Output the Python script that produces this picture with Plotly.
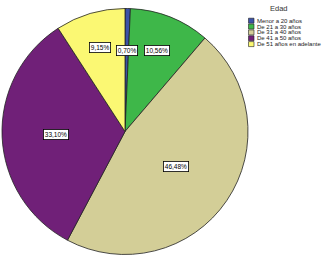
import math
import plotly.graph_objects as go

categories = ["Menor a 20 años", "De 21 a 30 años", "De 31 a 40 años",
              "De 41 a 50 años", "De 51 años en adelante"]
percentages = [0.70, 10.56, 46.48, 33.10, 9.15]
colors = ["#3B52A8", "#3EB749", "#D3CE97", "#702078", "#FBF873"]
legend_title = "Edad"
# label placement radius as fraction of pie radius (style)
label_radius = [0.66, 0.71, 0.50, 0.56, 0.71]

W, H = 331, 279
cx, cy, R = 125.0, 131.5, 123.0  # pixel geometry of pie

dom_x = [(cx - R) / W, (cx + R) / W]
dom_y = [1 - (cy + R) / H, 1 - (cy - R) / H]

fig = go.Figure(go.Pie(
    labels=categories, values=percentages, sort=False, direction="clockwise",
    rotation=0, marker=dict(colors=colors, line=dict(color="#222222", width=0.8)),
    textinfo="none", hoverinfo="label+percent", showlegend=False,
    domain=dict(x=dom_x, y=dom_y),
))

annotations = []
total = sum(percentages)
cum = 0.0
for v, rf in zip(percentages, label_radius):
    mid = (cum + v / 2) / total * 2 * math.pi
    cum += v
    px = cx + rf * R * math.sin(mid)
    py = cy - rf * R * math.cos(mid)
    annotations.append(dict(
        x=px / W, y=1 - py / H, xref="paper", yref="paper", showarrow=False,
        xanchor="center", yanchor="middle",
        text=f"{v:.2f}%".replace(".", ","),
        font=dict(family="Liberation Sans, Arial", size=6.5, color="black"),
        bgcolor="white", bordercolor="black", borderwidth=0.8, borderpad=1,
    ))

# custom compact legend
annotations.append(dict(x=279 / W, y=1 - 8.5 / H, xref="paper", yref="paper",
                        showarrow=False, text=legend_title, xanchor="center",
                        yanchor="middle",
                        font=dict(family="Liberation Sans, Arial", size=7.5, color="#333333")))
shapes = []
for i, (name, col) in enumerate(zip(categories, colors)):
    yc = 20.7 + i * 5.85
    shapes.append(dict(type="rect", xref="paper", yref="paper",
                       x0=248.5 / W, x1=254 / W, y0=1 - (yc + 2.5) / H, y1=1 - (yc - 2.5) / H,
                       fillcolor=col, line=dict(color="#222222", width=0.6)))
    annotations.append(dict(x=255.5 / W, y=1 - yc / H, xref="paper", yref="paper",
                            showarrow=False, text=name, xanchor="left", yanchor="middle",
                            font=dict(family="Liberation Sans, Arial", size=6, color="#222222"),
                            borderpad=0))

fig.update_layout(width=W, height=H, margin=dict(l=0, r=0, t=0, b=0),
                  paper_bgcolor="white", plot_bgcolor="white",
                  annotations=annotations, shapes=shapes)
fig.write_html("out.html")
